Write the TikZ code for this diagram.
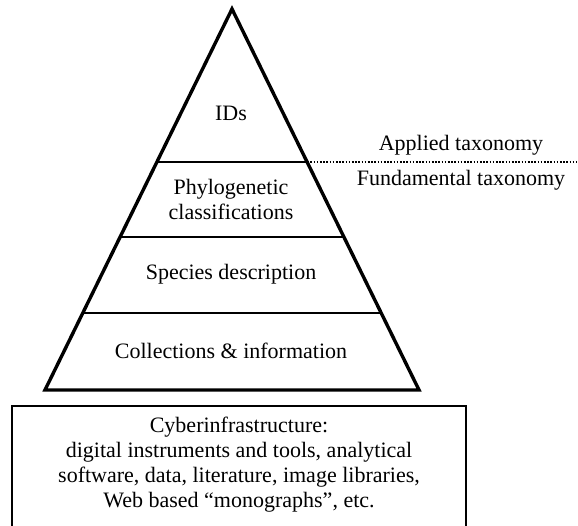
\documentclass[tikz,border=0pt]{standalone}
\usepackage{fontspec}
\setmainfont{Liberation Serif}
\usetikzlibrary{calc}
\begin{document}
\begin{tikzpicture}[x=1pt,y=-1pt,
  lbl/.style={font=\fontsize{22}{25}\selectfont, align=center, inner sep=0pt},
  side/.style={line width=3.4pt, line join=miter, line cap=butt},
  tier/.style={line width=1.8pt},
  divider/.style={line width=2pt, dash pattern=on 1.6pt off 1.6pt},
  infobox/.style={draw, line width=2.2pt, minimum width=454pt, minimum height=125pt, inner sep=0pt}]
\useasboundingbox (0,0) rectangle (578,525);
\clip (0,0) rectangle (578,525);

% pyramid corners
\coordinate (apex) at (232,9);
\coordinate (bl) at (45,390);
\coordinate (br) at (419,390);

% tier boundaries on both sides
\coordinate (l1) at ($(apex)!0.4016!(bl)$);
\coordinate (r1) at ($(apex)!0.4016!(br)$);
\coordinate (l2) at ($(apex)!0.5984!(bl)$);
\coordinate (r2) at ($(apex)!0.5984!(br)$);
\coordinate (l3) at ($(apex)!0.7979!(bl)$);
\coordinate (r3) at ($(apex)!0.7979!(br)$);
\coordinate (dotend) at (577,0 |- r1);

\draw[tier] (l1) -- (r1);
\draw[tier] (l2) -- (r2);
\draw[tier] (l3) -- (r3);
\draw[divider] (r1) -- (dotend);
\draw[side] (bl) -- (apex) -- (br) -- cycle;

% tier labels
\node[lbl] (ids) at (231,113) {IDs};
\node[lbl] (phylo) at (231,199.5) {Phylogenetic\\classifications};
\node[lbl] (species) at (231,274) {Species description};
\node[lbl] (coll) at (231,351) {Collections \& information};

% side labels
\node[lbl] (applied) at (461,145) {Applied taxonomy};
\node[lbl] (fund) at (461,180) {Fundamental taxonomy};

% cyberinfrastructure box
\node[infobox, anchor=north] (cyberbox) at (239,405) {};
\node[lbl] (cybertext) at (239,464.5) {Cyberinfrastructure:\\digital instruments and tools, analytical\\software, data, literature, image libraries,\\Web based “monographs”, etc.};
\end{tikzpicture}
\end{document}
